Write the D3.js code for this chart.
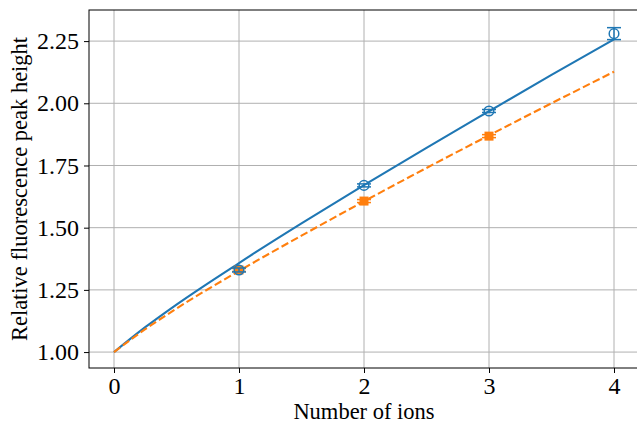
<!DOCTYPE html>
<html>
<head>
<meta charset="utf-8">
<script src="https://cdn.jsdelivr.net/npm/d3@7"></script>
<style>
  html, body { margin: 0; padding: 0; background: #fff; overflow: hidden; }
  svg { display: block; }
  text { font-family: "Liberation Serif", "Times New Roman", serif; }
</style>
</head>
<body>
<div id="plot"></div>
<script>
// Data
const xTicks = [0, 1, 2, 3, 4];
const yTicks = [1.00, 1.25, 1.50, 1.75, 2.00, 2.25];

// measured points (blue circles)
const measX = [1, 2, 3, 4];
const measY = [1.330, 1.670, 1.969, 2.280];
const measErr = [0.008, 0.006, 0.006, 0.024];

// simulated points (orange squares)
const simX = [1, 2, 3];
const simY = [1.330, 1.607, 1.868];
const simErr = [0.006, 0.006, 0.006];

// fitted curves
const curveX = [0, 0.25, 0.5, 1, 1.5, 2, 2.5, 3, 3.5, 4];
const blueCurveY = [1.0, 1.100, 1.191, 1.358, 1.517, 1.671, 1.821, 1.968, 2.114, 2.257];
const orangeCurveY = [1.0, 1.092, 1.175, 1.326, 1.468, 1.606, 1.740, 1.871, 2.000, 2.127];

const w = 637, h = 426;
const margin = { top: 10, right: 0, bottom: 58, left: 89 };
const innerWidth = w - margin.left - margin.right;
const innerHeight = h - margin.top - margin.bottom;

const blue = "#1f77b4", orange = "#ff7f0e";

const svg = d3.select("div#plot").append("svg")
  .attr("width", w).attr("height", h);

const g = svg.append("g")
  .attr("transform", `translate(${margin.left}, ${margin.top})`);

// right spine sits just past the picture edge
const xScale = d3.scaleLinear().domain([-0.2, 4.2]).range([0, innerWidth + 2]);
const yScale = d3.scaleLinear().domain([0.936, 2.375]).range([innerHeight, 0]);

// grid
g.append("g").selectAll("line").data(xTicks).enter().append("line")
  .attr("x1", d => xScale(d)).attr("x2", d => xScale(d))
  .attr("y1", 0).attr("y2", innerHeight)
  .attr("stroke", "#b0b0b0").attr("stroke-width", 1);
g.append("g").selectAll("line").data(yTicks).enter().append("line")
  .attr("y1", d => yScale(d)).attr("y2", d => yScale(d))
  .attr("x1", 0).attr("x2", innerWidth)
  .attr("stroke", "#b0b0b0").attr("stroke-width", 1);

// curves
const line = d3.line()
  .x((d, i) => xScale(curveX[i]))
  .y(d => yScale(d))
  .curve(d3.curveMonotoneX);

g.append("path").datum(blueCurveY)
  .attr("fill", "none").attr("stroke", blue).attr("stroke-width", 2.1)
  .attr("d", line);
g.append("path").datum(orangeCurveY)
  .attr("fill", "none").attr("stroke", orange).attr("stroke-width", 2.1)
  .attr("stroke-dasharray", "7.7,3.3")
  .attr("d", line);

// error bars helper
function errorBars(xs, ys, errs, color) {
  const eg = g.append("g").attr("stroke", color).attr("stroke-width", 1.5);
  xs.forEach((x, i) => {
    const cx = xScale(x), top = yScale(ys[i] + errs[i]), bot = yScale(ys[i] - errs[i]);
    eg.append("line").attr("x1", cx).attr("x2", cx).attr("y1", top).attr("y2", bot);
    eg.append("line").attr("x1", cx - 7).attr("x2", cx + 7).attr("y1", top).attr("y2", top);
    eg.append("line").attr("x1", cx - 7).attr("x2", cx + 7).attr("y1", bot).attr("y2", bot);
  });
}

// orange squares
errorBars(simX, simY, simErr, orange);
g.append("g").selectAll("rect").data(simY).enter().append("rect")
  .attr("x", (d, i) => xScale(simX[i]) - 4.5)
  .attr("y", d => yScale(d) - 4.5)
  .attr("width", 9).attr("height", 9)
  .attr("fill", orange);

// blue circles
errorBars(measX, measY, measErr, blue);
g.append("g").selectAll("circle").data(measY).enter().append("circle")
  .attr("cx", (d, i) => xScale(measX[i]))
  .attr("cy", d => yScale(d))
  .attr("r", 4.8)
  .attr("fill", "none").attr("stroke", blue).attr("stroke-width", 1.5);

// axes
const xAxis = g.append("g")
  .attr("transform", `translate(0, ${innerHeight})`)
  .call(d3.axisBottom(xScale).tickValues(xTicks).tickFormat(d3.format("d")).tickSizeOuter(0).tickSize(5).tickPadding(4));
const yAxis = g.append("g")
  .call(d3.axisLeft(yScale).tickValues(yTicks).tickFormat(d3.format(".2f")).tickSizeOuter(0).tickSize(5).tickPadding(5));

[xAxis, yAxis].forEach(a => {
  a.attr("font-size", 24).attr("font-family", null);
  a.select(".domain").remove();
  a.selectAll(".tick line").attr("stroke", "#000").attr("stroke-width", 1);
  a.selectAll(".tick text").attr("fill", "#000");
});

// spines (right one falls at the edge)
g.append("rect")
  .attr("x", 0).attr("y", 0).attr("width", innerWidth + 2).attr("height", innerHeight)
  .attr("fill", "none").attr("stroke", "#000").attr("stroke-width", 1);

// labels
svg.append("text")
  .attr("x", margin.left + xScale(2)).attr("y", 419)
  .attr("text-anchor", "middle").attr("font-size", 22.5)
  .text("Number of ions");
svg.append("text")
  .attr("transform", `translate(27, ${margin.top + innerHeight / 2}) rotate(-90)`)
  .attr("text-anchor", "middle").attr("font-size", 22.5)
  .text("Relative fluorescence peak height");
</script>
</body>
</html>
